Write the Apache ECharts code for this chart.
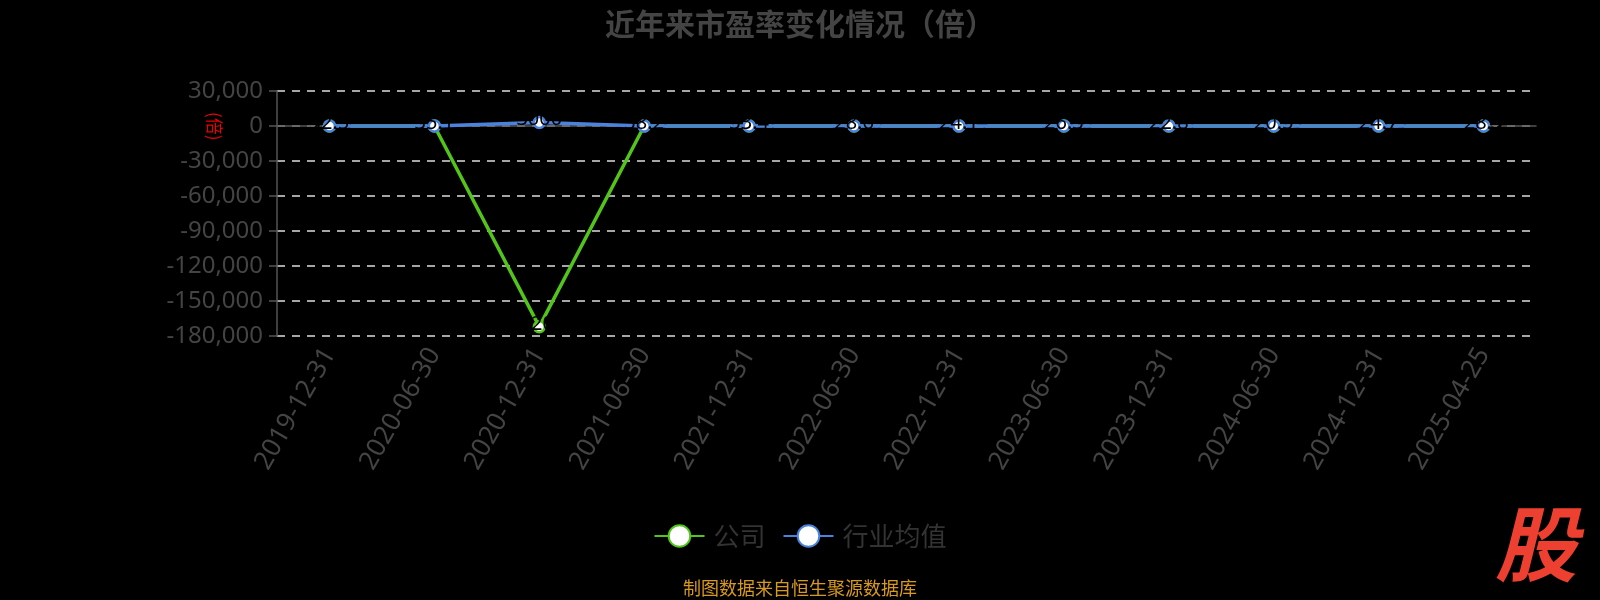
<!DOCTYPE html>
<html>
<head>
<meta charset="utf-8">
<script src="https://cdn.jsdelivr.net/npm/echarts@6/dist/echarts.min.js"></script>
<style>
html,body{margin:0;padding:0;background:#000;}
#c{width:1600px;height:600px;}
</style>
</head>
<body>
<div id="c"></div>
<script>
var categories = ['2019-12-31','2020-06-30','2020-12-31','2021-06-30','2021-12-31','2022-06-30','2022-12-31','2023-06-30','2023-12-31','2024-06-30','2024-12-31','2025-04-25'];
var companyValues = [-25.3, 16.6, -172000, -21.6, -14.21, -22.95, -22.04, -27.08, -10.41, -10.19, -29.89, -31.2];
var industryValues = [32.5, 35.1, 3000, 38.2, 33.4, 28.6, 24.1, 26.3, 22.8, 20.5, 24.7, 28.9];
var yTicks = {min: -180000, max: 30000, interval: 30000};

var chart = echarts.init(document.getElementById('c'), null, {renderer: 'canvas'});
var cjk = '"Noto Sans", "Noto Sans CJK SC", sans-serif';
var lbl = {show: true, position: 'top', distance: 0, offset: [0, 14], color: '#000', fontSize: 20, fontFamily: cjk};
chart.setOption({
  backgroundColor: '#000',
  animation: false,
  title: {
    text: '近年来市盈率变化情况（倍）',
    left: 'center',
    top: 4,
    textStyle: {color: '#444', fontSize: 30, fontWeight: 'bold', fontFamily: '"Noto Sans CJK SC", sans-serif'}
  },
  legend: {
    bottom: 46,
    left: 'center',
    itemWidth: 50,
    itemHeight: 27,
    itemGap: 17,
    textStyle: {color: '#333', fontSize: 26, padding: [0, 0, 0, 4], fontFamily: '"Noto Sans CJK SC", sans-serif'},
    data: ['公司', '行业均值']
  },
  grid: {left: 277, right: 64, top: 91, height: 245, containLabel: false},
  xAxis: {
    type: 'category',
    data: categories,
    boundaryGap: true,
    axisLine: {lineStyle: {color: '#555', width: 1.5}},
    axisTick: {alignWithLabel: false, length: 8, lineStyle: {color: '#555', width: 1.5}},
    axisLabel: {color: '#444', fontSize: 26, rotate: 60, margin: 14, interval: 0, fontFamily: cjk}
  },
  yAxis: {
    type: 'value',
    min: yTicks.min,
    max: yTicks.max,
    interval: yTicks.interval,
    axisLine: {show: true, lineStyle: {color: '#555', width: 1.5}},
    axisTick: {show: true, length: 8, lineStyle: {color: '#555', width: 1.5}},
    axisLabel: {color: '#444', fontSize: 24, margin: 14, fontFamily: cjk},
    splitLine: {show: true, lineStyle: {color: '#ddd', type: [8, 7], width: 1.5}}
  },
  graphic: [
    {type: 'text', left: 206, top: 112, rotation: -Math.PI / 2, style: {text: '(倍)', fill: '#e00', fontSize: 17, fontFamily: '"Noto Sans CJK SC", sans-serif'}},
    {type: 'text', left: 'center', top: 579, style: {text: '制图数据来自恒生聚源数据库', fill: '#d99a1c', fontSize: 18, fontFamily: '"Noto Sans CJK SC", sans-serif'}},
    {type: 'text', left: 1495, top: 503, style: {text: '股', fill: '#ee4030', fontSize: 82, fontWeight: 'bold', fontStyle: 'italic', fontFamily: '"Noto Sans CJK SC", sans-serif'}}
  ],
  series: [
    {
      name: '公司',
      type: 'line',
      data: companyValues,
      symbol: 'circle',
      symbolSize: 11,
      lineStyle: {color: '#52c41a', width: 3.5},
      itemStyle: {color: '#fff', borderColor: '#52c41a', borderWidth: 2.5},
      label: lbl,
      z: 2
    },
    {
      name: '行业均值',
      type: 'line',
      data: industryValues,
      symbol: 'circle',
      symbolSize: 11,
      lineStyle: {color: '#4a82dc', width: 3.5},
      itemStyle: {color: '#fff', borderColor: '#4a82dc', borderWidth: 2.5},
      label: lbl,
      z: 3
    }
  ]
});
</script>
</body>
</html>
